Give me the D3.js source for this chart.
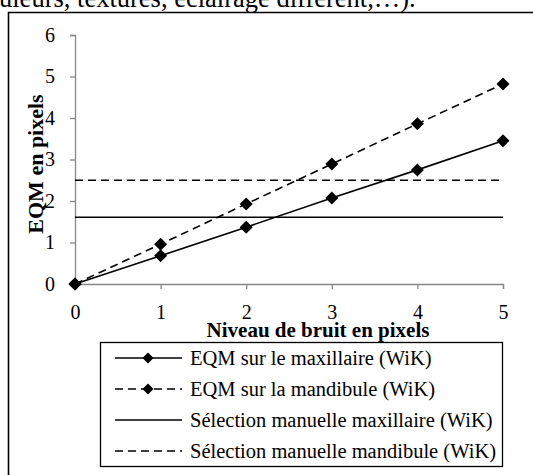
<!DOCTYPE html>
<html>
<head>
<meta charset="utf-8">
<script src="https://d3js.org/d3.v7.min.js"></script>
<style>
  html, body { margin: 0; padding: 0; background: #fff; }
  svg { display: block; }
</style>
</head>
<body>
<svg id="chart" width="533" height="475"></svg>
<script>
// data
const noise = [0, 1, 2, 3, 4, 5]
const eqmMaxillaire = [0, 0.68, 1.37, 2.07, 2.75, 3.45]
const eqmMandibule = [0, 0.96, 1.93, 2.89, 3.86, 4.82]
const manuelMaxillaire = 1.61
const manuelMandibule = 2.5
const xTicks = [0, 1, 2, 3, 4, 5]
const yTicks = [0, 1, 2, 3, 4, 5, 6]
const legendLabels = [
  "EQM sur le maxillaire (WiK)",
  "EQM sur la mandibule (WiK)",
  "Sélection manuelle maxillaire (WiK)",
  "Sélection manuelle mandibule (WiK)"
]

const svg = d3.select("#chart")
const font = "'Liberation Serif', 'Times New Roman', serif"
const dash = "8,5"

// text of the page above the figure, cut off
svg.append("text")
  .attr("x", -26).attr("y", 7)
  .attr("font-family", font).attr("font-size", 26.5)
  .text("couleurs, textures, éclairage différent,…).")

// frame of the figure
svg.append("path")
  .attr("d", "M8.5,480 L8.5,12.5 L540,12.5")
  .attr("fill", "none").attr("stroke", "black").attr("stroke-width", 1.6)

const x = d3.scaleLinear().domain([0, 5]).range([75, 503])
const y = d3.scaleLinear().domain([0, 6]).range([284, 35])

// axes
const yAxis = svg.append("g")
  .attr("transform", `translate(${x(0)},0)`)
  .call(d3.axisLeft(y).tickValues(yTicks).tickFormat(d3.format("d")).tickSize(5).tickPadding(15))
const xAxis = svg.append("g")
  .attr("transform", `translate(0,${y(0)})`)
  .call(d3.axisBottom(x).tickValues(xTicks).tickFormat(d3.format("d")).tickSize(5).tickPadding(16))
for (const ax of [xAxis, yAxis]) {
  ax.select(".domain").attr("stroke", "#878787").attr("stroke-width", 1.3)
  ax.selectAll(".tick line").attr("stroke", "#878787").attr("stroke-width", 1.3)
  ax.selectAll("text").attr("font-family", font).attr("font-size", 20).attr("fill", "black")
}

// horizontal reference lines
svg.append("line")
  .attr("x1", x(0)).attr("x2", x(5))
  .attr("y1", y(manuelMaxillaire)).attr("y2", y(manuelMaxillaire))
  .attr("stroke", "black").attr("stroke-width", 1.6)
svg.append("line")
  .attr("x1", x(0)).attr("x2", x(5))
  .attr("y1", y(manuelMandibule)).attr("y2", y(manuelMandibule))
  .attr("stroke", "black").attr("stroke-width", 1.6).attr("stroke-dasharray", dash)

const line = d3.line().x((d, i) => x(noise[i])).y(d => y(d))
const diamond = (cx, cy, r) => `M${cx},${cy - r}L${cx + r},${cy}L${cx},${cy + r}L${cx - r},${cy}Z`

const series = [
  { values: eqmMaxillaire, dashed: false },
  { values: eqmMandibule, dashed: true }
]
series.forEach(s => {
  svg.append("path")
    .attr("d", line(s.values))
    .attr("fill", "none").attr("stroke", "black").attr("stroke-width", 1.6)
    .attr("stroke-dasharray", s.dashed ? dash : null)
  svg.selectAll(null).data(s.values).enter()
    .append("path")
    .attr("d", (d, i) => diamond(x(noise[i]), y(d), 6.5))
    .attr("fill", "black")
})

// axis titles
svg.append("text")
  .attr("x", 318).attr("y", 337)
  .attr("text-anchor", "middle")
  .attr("font-family", font).attr("font-size", 21).attr("font-weight", "bold")
  .text("Niveau de bruit en pixels")
svg.append("text")
  .attr("transform", "translate(43,164) rotate(-90)")
  .attr("text-anchor", "middle")
  .attr("font-family", font).attr("font-size", 22).attr("font-weight", "bold")
  .text("EQM en pixels")

// legend
svg.append("rect")
  .attr("x", 100.5).attr("y", 342.5).attr("width", 402).attr("height", 124)
  .attr("fill", "white").attr("stroke", "black").attr("stroke-width", 1.3)

const legendStyle = [
  { dashed: false, marker: true },
  { dashed: true, marker: true },
  { dashed: false, marker: false },
  { dashed: true, marker: false }
]
legendLabels.forEach((label, i) => {
  const ly = 358 + i * 31
  svg.append("line")
    .attr("x1", 115).attr("x2", 182).attr("y1", ly).attr("y2", ly)
    .attr("stroke", "black").attr("stroke-width", 1.6)
    .attr("stroke-dasharray", legendStyle[i].dashed ? dash : null)
  if (legendStyle[i].marker) {
    svg.append("path").attr("d", diamond(148, ly, 5.5)).attr("fill", "black")
  }
  svg.append("text")
    .attr("x", 190).attr("y", ly + 7)
    .attr("font-family", font).attr("font-size", 20.5)
    .text(label)
})
</script>
</body>
</html>
